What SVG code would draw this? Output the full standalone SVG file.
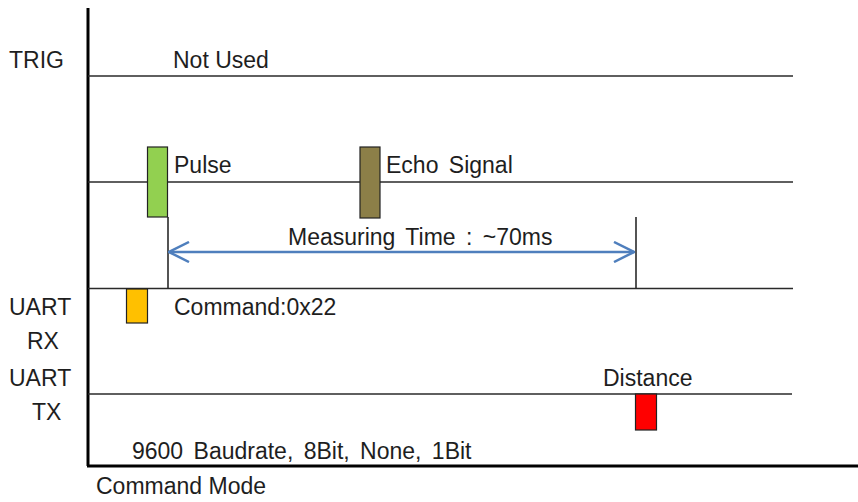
<svg xmlns="http://www.w3.org/2000/svg" width="858" height="502" viewBox="0 0 858 502">
<defs>
<style>
.t{font-family:"Liberation Sans",Arial,sans-serif;font-size:23px;fill:#1e1e1e}
.ws{word-spacing:4px}
.sig{stroke:#2a2a2a;stroke-width:1.6;fill:none}
.axis{stroke:#000;stroke-width:3;fill:none}
.box{stroke:#222;stroke-width:1.2}
</style>
<marker id="chev" viewBox="0 0 22 22" refX="21" refY="11" markerWidth="22" markerHeight="22" markerUnits="userSpaceOnUse" orient="auto-start-reverse">
<path d="M1,1 L21,11 L1,21" fill="none" stroke="#4f7fbd" stroke-width="2.5"/>
</marker>
</defs>
<rect width="858" height="502" fill="#fff"/>
<g id="axes">
<line class="axis" x1="88" y1="8" x2="88" y2="466"/>
<line class="axis" x1="87" y1="466" x2="858" y2="466"/>
</g>
<g id="connectors">
<line class="sig" x1="88" y1="76" x2="793" y2="76"/>
<line class="sig" x1="88" y1="182" x2="793" y2="182"/>
<line class="sig" x1="88" y1="288.5" x2="793" y2="288.5"/>
<line class="sig" x1="88" y1="394" x2="792" y2="394"/>
<line class="sig" x1="168" y1="217" x2="168" y2="288.5"/>
<line class="sig" x1="636" y1="217" x2="636" y2="288.5"/>
<line x1="169" y1="252" x2="634" y2="252" stroke="#4f7fbd" stroke-width="2.5" marker-start="url(#chev)" marker-end="url(#chev)"/>
</g>
<g id="labels">
<text class="t" x="9" y="68">TRIG</text>
<text class="t" x="9" y="315">UART</text>
<text class="t" x="27" y="349">RX</text>
<text class="t" x="9" y="386">UART</text>
<text class="t" x="32" y="420">TX</text>
</g>
<g id="trig"><text class="t" x="173" y="68">Not Used</text></g>
<g id="pulse">
<rect class="box" x="147.5" y="147" width="20" height="70" fill="#92d050"/>
<text class="t" x="174" y="173">Pulse</text>
</g>
<g id="echo">
<rect class="box" x="360" y="147" width="20" height="71" fill="#8c7f48"/>
<text class="t ws" x="386" y="173">Echo Signal</text>
</g>
<g id="measure"><text class="t ws" x="288" y="245">Measuring Time : ~70ms</text></g>
<g id="command">
<rect class="box" x="126.5" y="289" width="21" height="34" fill="#ffc000"/>
<text class="t" x="174" y="315">Command:0x22</text>
</g>
<g id="distance">
<rect class="box" x="635.5" y="394" width="21" height="36" fill="#ff0000"/>
<text class="t" x="603" y="386">Distance</text>
</g>
<g id="notes">
<text class="t ws" x="132" y="459">9600 Baudrate, 8Bit, None, 1Bit</text>
<text class="t" x="96" y="494">Command Mode</text>
</g>
</svg>
